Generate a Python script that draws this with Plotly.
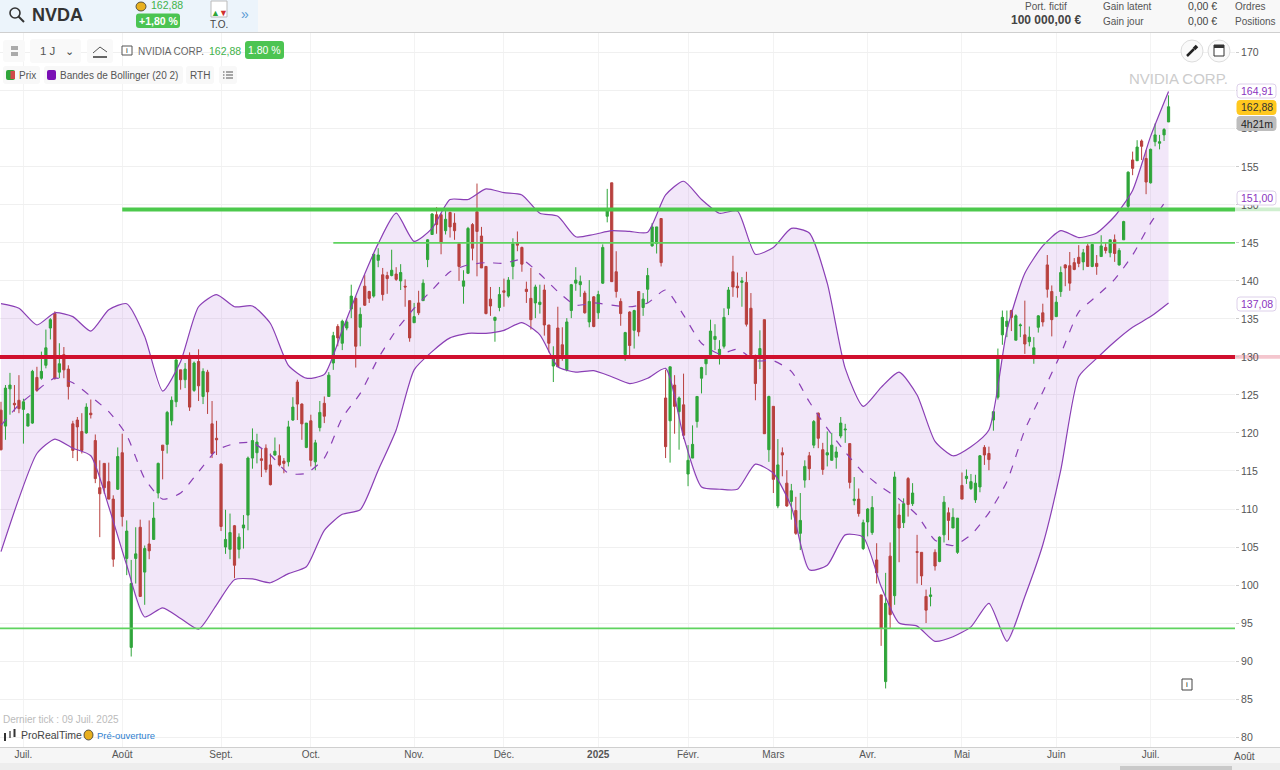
"""NVDA daily candles with Bollinger bands, ProRealTime style."""

import plotly.graph_objects as go

opens = [
    123.0, 120.9, 125.8, 123.9, 124.3, 123.1, 120.9, 121.3, 127.3, 127.2,
    128.9, 133.8, 135.7, 128.0, 130.3, 128.4, 121.2, 121.7, 120.2, 120.0,
    122.6, 119.0, 112.8, 116.0, 113.6, 111.3, 112.6, 117.4, 103.5, 91.8,
    103.5, 107.6, 101.7, 105.4, 106.0, 112.1, 118.4, 118.5, 121.6, 124.1,
    128.3, 127.0, 130.2, 125.6, 129.4, 124.8, 128.0, 121.2, 119.3, 115.9,
    105.0, 104.7, 107.8, 104.7, 107.5, 109.2, 116.7, 117.4, 116.6, 118.0,
    115.8, 117.1, 117.0, 116.3, 116.2, 121.7, 126.7, 123.8, 118.1, 121.6,
    116.2, 120.7, 123.9, 124.8, 129.2, 134.0, 131.8, 133.8, 136.3, 137.7,
    133.9, 139.3, 138.6, 138.0, 142.7, 140.8, 140.7, 140.7, 140.9, 140.0,
    139.3, 137.4, 134.5, 137.1, 137.4, 142.8, 146.1, 148.7, 148.7, 146.6,
    149.0, 147.6, 144.9, 139.3, 141.0, 147.4, 149.1, 145.9, 141.9, 137.6,
    134.8, 136.5, 138.7, 138.0, 141.9, 145.0, 144.4, 138.9, 137.7, 137.1,
    136.9, 138.8, 134.2, 128.8, 133.8, 131.6, 128.3, 136.1, 139.7, 139.5,
    138.4, 134.6, 137.9, 135.8, 139.7, 148.5, 152.9, 141.2, 137.3, 130.3,
    135.9, 133.5, 138.6, 136.5, 138.9, 144.6, 144.9, 148.2, 124.6, 121.6,
    126.3, 122.8, 123.7, 114.6, 116.7, 121.5, 127.2, 129.1, 130.3, 132.3,
    130.3, 131.4, 136.4, 141.2, 139.3, 139.8, 139.8, 136.4, 129.8, 130.0,
    134.9, 117.8, 123.5, 110.4, 117.4, 113.4, 111.0, 109.8, 106.8, 113.8,
    117.0, 118.4, 122.6, 117.8, 117.1, 116.4, 116.8, 119.6, 120.4, 118.6,
    111.1, 111.3, 104.8, 108.3, 106.9, 103.3, 98.7, 87.3, 103.8, 98.6,
    109.2, 108.2, 114.0, 110.7, 104.4, 104.3, 98.5, 98.5, 104.3, 103.1,
    106.6, 109.5, 107.5, 104.3, 113.1, 114.0, 112.7, 111.2, 112.9, 118.1,
    117.3, 121.7, 124.7, 132.9, 134.0, 136.1, 132.2, 134.1, 132.9, 132.0,
    130.0, 133.9, 135.8, 142.1, 138.6, 135.3, 138.6, 142.1, 142.0, 142.4,
    143.1, 142.5, 144.6, 141.9, 142.3, 143.2, 144.4, 143.7, 145.4, 142.1,
    145.4, 149.8, 155.9, 155.8, 158.4, 156.1, 152.9, 158.3, 158.1, 159.2, 160.9,
]
highs = [
    124.1, 126.3, 127.9, 126.3, 127.6, 124.5, 122.6, 128.3, 128.7, 130.7,
    133.6, 135.1, 136.0, 131.8, 131.3, 128.9, 121.6, 122.1, 122.6, 123.9,
    124.4, 119.8, 116.4, 116.0, 116.1, 111.8, 118.1, 119.9, 108.5, 103.3,
    107.6, 108.6, 105.2, 108.5, 110.9, 116.1, 118.4, 122.9, 124.8, 129.8,
    128.3, 129.2, 130.6, 129.4, 131.0, 128.5, 128.3, 124.2, 121.6, 116.0,
    109.9, 109.4, 107.9, 106.8, 109.2, 116.9, 120.6, 119.9, 118.0, 118.5,
    117.3, 119.4, 118.5, 116.7, 121.6, 124.7, 127.0, 123.9, 121.3, 122.4,
    119.1, 124.2, 124.8, 128.0, 133.3, 134.3, 134.9, 134.9, 139.5, 138.0,
    136.5, 140.8, 138.7, 143.6, 144.3, 141.7, 141.2, 144.1, 141.8, 142.2,
    140.2, 137.4, 137.1, 138.7, 140.2, 145.5, 148.9, 149.7, 148.9, 149.3,
    149.1, 148.9, 145.0, 141.4, 147.1, 147.6, 152.8, 147.1, 141.9, 139.2,
    135.3, 139.2, 140.3, 140.5, 145.6, 146.5, 144.5, 139.9, 141.7, 139.5,
    139.5, 139.5, 134.2, 131.4, 136.6, 133.9, 135.1, 139.6, 141.8, 140.7,
    138.7, 140.1, 138.0, 138.7, 144.8, 152.1, 152.9, 143.9, 137.7, 133.3,
    136.0, 136.2, 138.6, 138.4, 141.7, 147.6, 147.1, 148.2, 128.3, 128.7,
    127.6, 124.8, 127.8, 118.4, 121.0, 124.8, 128.7, 130.0, 134.9, 134.3,
    132.2, 136.4, 139.2, 143.3, 141.1, 140.5, 141.2, 138.4, 130.3, 133.5,
    134.9, 124.9, 123.5, 119.2, 118.1, 115.1, 113.3, 111.6, 112.1, 116.4,
    117.5, 121.7, 122.7, 118.7, 120.2, 120.0, 118.2, 122.1, 121.2, 118.6,
    114.2, 112.7, 108.6, 110.1, 111.7, 105.5, 98.7, 101.6, 105.6, 114.9,
    110.7, 111.4, 114.2, 113.4, 106.6, 104.3, 99.4, 99.7, 104.7, 106.4,
    111.7, 110.2, 110.1, 108.8, 114.8, 115.2, 114.6, 114.5, 117.1, 118.4,
    118.2, 122.8, 131.1, 136.1, 136.1, 136.2, 135.6, 134.4, 137.4, 134.0,
    132.6, 135.5, 137.0, 143.4, 139.4, 138.0, 141.9, 142.2, 143.8, 143.0,
    144.7, 144.2, 144.9, 144.8, 143.4, 146.0, 145.0, 145.4, 146.1, 144.3,
    147.9, 154.4, 157.0, 158.5, 158.6, 157.2, 157.4, 160.7, 159.2, 160.1, 164.4,
]
lows = [
    117.7, 119.1, 122.4, 122.8, 122.6, 118.6, 120.9, 121.2, 125.4, 127.0,
    128.5, 132.3, 127.0, 127.2, 127.2, 124.4, 116.7, 116.3, 117.3, 119.9,
    121.9, 113.4, 106.3, 112.0, 111.3, 102.4, 112.5, 107.7, 101.3, 90.6,
    100.2, 98.5, 97.4, 103.4, 106.0, 111.4, 113.9, 117.3, 121.0, 123.4,
    125.7, 125.9, 122.9, 125.4, 124.2, 123.8, 122.5, 116.7, 117.1, 107.1,
    104.1, 103.4, 100.9, 103.5, 104.8, 107.2, 115.3, 116.0, 114.2, 114.8,
    113.1, 117.0, 115.6, 114.7, 115.6, 121.6, 121.7, 119.1, 118.0, 115.6,
    115.1, 120.2, 121.3, 124.8, 128.3, 131.4, 130.9, 133.5, 135.1, 128.6,
    131.4, 136.7, 137.1, 137.8, 141.8, 137.4, 138.3, 140.6, 140.0, 138.8,
    136.6, 132.0, 134.5, 135.5, 137.4, 141.8, 146.1, 146.2, 143.5, 146.1,
    145.7, 145.4, 140.0, 137.0, 140.9, 142.7, 140.6, 141.7, 135.6, 135.4,
    132.0, 136.0, 136.6, 137.8, 140.2, 143.9, 141.2, 137.1, 133.6, 135.1,
    135.7, 132.8, 130.6, 126.7, 128.7, 129.5, 128.1, 135.1, 138.7, 137.9,
    135.7, 133.9, 133.9, 135.0, 139.6, 147.7, 139.9, 137.8, 134.1, 129.5,
    130.1, 131.1, 132.7, 135.4, 137.1, 144.5, 143.6, 141.9, 116.7, 116.1,
    119.9, 117.8, 119.2, 113.0, 116.7, 120.7, 125.2, 127.6, 130.3, 130.9,
    129.0, 131.1, 135.5, 137.9, 137.8, 136.6, 134.0, 130.0, 124.3, 128.4,
    119.9, 116.2, 112.1, 110.1, 114.3, 110.3, 108.6, 106.6, 104.6, 112.8,
    113.8, 118.0, 118.0, 114.5, 115.6, 116.4, 115.3, 119.3, 118.7, 112.7,
    110.5, 109.0, 104.6, 106.4, 106.6, 100.2, 92.0, 86.4, 94.3, 97.4,
    103.0, 107.5, 109.0, 110.4, 100.2, 100.0, 95.0, 97.2, 101.9, 103.0,
    105.6, 105.9, 107.5, 104.1, 111.3, 113.3, 112.5, 110.8, 112.2, 115.8,
    115.1, 120.3, 124.4, 131.6, 132.6, 133.4, 132.2, 132.6, 130.4, 131.4,
    129.1, 133.2, 134.0, 137.8, 132.7, 135.3, 137.9, 139.3, 138.7, 141.4,
    141.8, 141.4, 141.9, 141.8, 140.8, 143.2, 143.6, 143.1, 142.5, 142.0,
    145.4, 149.5, 153.9, 155.8, 155.9, 151.4, 152.8, 157.7, 157.3, 158.4, 160.9,
]
closes = [
    117.8, 125.9, 126.3, 123.7, 123.2, 124.1, 122.5, 128.1, 125.6, 128.1,
    131.2, 134.9, 127.2, 129.1, 128.3, 126.1, 117.7, 120.8, 117.7, 123.4,
    122.4, 114.0, 112.0, 112.8, 111.3, 103.4, 116.9, 109.0, 107.1, 100.2,
    104.1, 98.5, 104.8, 104.5, 108.8, 116.0, 117.7, 122.7, 124.3, 129.6,
    127.0, 128.4, 123.4, 129.2, 126.2, 128.1, 125.4, 117.3, 119.1, 107.7,
    106.0, 106.9, 102.6, 106.3, 107.9, 116.7, 119.0, 118.8, 116.4, 115.2,
    113.2, 117.6, 115.8, 116.0, 120.8, 123.4, 123.8, 121.2, 121.3, 116.4,
    118.7, 122.7, 122.2, 127.6, 132.8, 132.5, 134.7, 134.6, 138.0, 131.4,
    135.6, 136.8, 137.7, 143.5, 143.4, 138.2, 140.3, 141.4, 140.2, 141.1,
    139.2, 132.5, 135.3, 135.8, 139.7, 145.4, 148.8, 147.4, 145.0, 148.1,
    147.1, 146.6, 141.9, 140.0, 146.9, 144.3, 146.5, 141.7, 135.7, 136.7,
    135.2, 138.2, 138.5, 140.1, 144.9, 144.7, 142.2, 138.6, 134.9, 139.2,
    137.2, 134.2, 131.8, 129.8, 128.7, 130.3, 134.6, 139.5, 140.1, 139.9,
    135.8, 137.3, 134.0, 138.2, 144.4, 149.3, 139.9, 138.6, 135.7, 133.2,
    131.5, 136.1, 133.3, 137.6, 140.7, 147.1, 147.1, 142.4, 118.2, 128.7,
    123.5, 124.6, 119.7, 116.4, 118.5, 124.8, 128.6, 129.7, 133.4, 132.7,
    131.0, 135.2, 138.8, 139.2, 139.1, 140.0, 134.3, 130.3, 126.5, 131.1,
    119.9, 124.8, 113.9, 115.8, 117.1, 110.4, 112.4, 106.8, 108.5, 115.6,
    115.3, 121.5, 119.3, 115.2, 117.4, 118.4, 117.5, 121.3, 120.5, 113.5,
    111.3, 109.4, 108.2, 110.0, 110.2, 101.6, 94.3, 97.6, 96.1, 114.2,
    107.5, 110.7, 110.6, 112.1, 104.3, 101.2, 96.7, 98.7, 102.5, 106.3,
    110.9, 108.5, 108.9, 108.8, 111.3, 114.3, 113.6, 113.4, 117.0, 117.1,
    116.5, 122.8, 129.7, 135.2, 134.7, 135.2, 135.4, 134.2, 131.7, 132.6,
    131.2, 135.4, 134.6, 138.9, 134.9, 137.2, 141.1, 141.7, 139.7, 141.5,
    142.3, 143.7, 141.9, 144.8, 141.9, 144.6, 144.0, 145.4, 143.6, 144.0,
    147.8, 154.3, 154.8, 157.6, 157.7, 153.0, 157.3, 159.2, 158.3, 159.9, 162.9,
]

# bands read every 4th session
band_days = list(range(0, 261, 4))
band_upper = [
    137.0, 136.4, 134.2, 135.8, 135.3, 133.4, 136.2, 137.0, 132.7, 125.5,
    129.4, 136.6, 138.2, 136.6, 136.7, 134.4, 128.9, 127.2, 127.7,
    133.5, 139.5, 144.9, 148.9, 145.2, 146.9, 150.7, 150.7, 152.1, 151.6,
    151.3, 148.9, 148.5, 145.8, 146.1, 146.6, 146.5, 146.4,
    151.3, 153.1, 150.7, 148.9, 149.2, 143.5, 144.4, 146.9, 146.3, 139.7,
    128.5, 123.5, 126.0, 128.0, 125.0, 118.9, 117.0,
    118.2, 120.4, 133.5, 141.0, 144.6, 146.6, 145.7, 146.3, 148.5, 151.9, 159.0, 164.9,
]
band_mid = [
    121.0, 123.7, 125.6, 127.2, 126.6, 124.8, 122.8, 119.7, 114.0, 111.3,
    112.1, 114.9, 117.7, 118.6, 118.7, 117.1, 114.7, 114.7, 116.7,
    122.0, 125.2, 129.8, 133.5, 136.4, 138.8, 141.2, 142.1, 142.4, 142.3,
    142.8, 140.9, 138.6, 136.8, 137.1, 136.8, 136.6, 137.1,
    138.8, 135.5, 131.8, 130.4, 131.0, 129.5, 129.5, 128.1, 124.1, 120.6,
    117.5, 114.8, 112.9, 111.3, 109.2, 105.9, 105.2,
    106.6, 109.5, 113.6, 120.4, 125.4, 130.4, 135.9, 138.0, 140.2, 143.4, 147.6, 151.0,
]
band_lower = [
    104.4, 111.4, 117.3, 119.2, 118.0, 117.0, 110.3, 102.6, 95.8, 97.0,
    95.6, 94.2, 97.4, 100.7, 100.8, 100.3, 101.5, 102.4, 107.2,
    109.3, 109.9, 115.1, 120.4, 128.3, 130.7, 132.5, 133.1, 133.1, 133.5,
    134.5, 132.9, 128.7, 128.0, 128.2, 127.4, 126.5, 127.2,
    128.5, 119.5, 112.9, 112.6, 112.6, 115.9, 114.7, 110.3, 102.0, 102.6,
    106.6, 106.3, 99.8, 95.0, 94.6, 92.6, 93.2,
    94.5, 97.6, 92.6, 98.5, 105.3, 115.1, 127.4, 129.8, 132.0, 133.9, 135.3, 137.1,
]

# horizontal levels: price, first session, colour, width
level_prices = [149.4, 145.0, 130.0, 94.3]
level_starts = [27, 74, -1, -1]
level_colors = ["#4CC94C", "#5FD35F", "#D0102E", "#5FD35F"]
level_widths = [4, 1.6, 4, 1.6]

month_days = [5, 27, 49, 69, 92, 112, 133, 153, 172, 193, 214, 235, 256]
month_labels = ["Juil.", "Août", "Sept.", "Oct.", "Nov.", "Déc.", "<b>2025</b>",
                "Févr.", "Mars", "Avr.", "Mai", "Juin", "Juil."]
price_ticks = list(range(80, 175, 5))
# 165 sits fully behind the upper band tag
price_labels = ["" if p == 165 else str(p) for p in price_ticks]

X_RANGE = [-0.22, 274.8]
Y_RANGE = [78.7, 172.6]
PLOT_L, PLOT_R, PLOT_T, PLOT_B = 0, 1235, 33, 747
FONT = "Liberation Sans"
GREEN = "#2FA53A"
RED = "#B8403E"
PURPLE = "#8A3FB5"


def px(x):
    return (x - PLOT_L) / (PLOT_R - PLOT_L)


def py(y):
    return (PLOT_B - y) / (PLOT_B - PLOT_T)


shapes = []
annotations = []


def rect(x0, y0, x1, y1, fill, line=None, layer="below"):
    shapes.append(dict(type="rect", xref="paper", yref="paper", layer=layer,
                       x0=px(x0), x1=px(x1), y0=py(y0), y1=py(y1), fillcolor=fill,
                       line=dict(color=line or fill, width=1 if line else 0)))


def pill(x0, y0, x1, y1, r, fill, line=None, layer="above"):
    path = (f"M{px(x0 + r)},{py(y0)} L{px(x1 - r)},{py(y0)} Q{px(x1)},{py(y0)} {px(x1)},{py(y0 + r)} "
            f"L{px(x1)},{py(y1 - r)} Q{px(x1)},{py(y1)} {px(x1 - r)},{py(y1)} "
            f"L{px(x0 + r)},{py(y1)} Q{px(x0)},{py(y1)} {px(x0)},{py(y1 - r)} "
            f"L{px(x0)},{py(y0 + r)} Q{px(x0)},{py(y0)} {px(x0 + r)},{py(y0)} Z")
    shapes.append(dict(type="path", xref="paper", yref="paper", layer=layer, path=path,
                       fillcolor=fill, line=dict(color=line or fill, width=1 if line else 0)))


def seg(x0, y0, x1, y1, color, width=1.5):
    shapes.append(dict(type="line", xref="paper", yref="paper", layer="above",
                       x0=px(x0), x1=px(x1), y0=py(y0), y1=py(y1),
                       line=dict(color=color, width=width)))


def circle(x0, y0, x1, y1, fill, line, width=1.0):
    shapes.append(dict(type="circle", xref="paper", yref="paper", layer="above",
                       x0=px(x0), x1=px(x1), y0=py(y0), y1=py(y1), fillcolor=fill,
                       line=dict(color=line, width=width)))


def label(x, y, text, size=10, color="#555555", anchor="left"):
    # annotations carry about 2px of padding around the text
    nudge = {"left": -2, "right": 2}.get(anchor, 0)
    annotations.append(dict(xref="paper", yref="paper", x=px(x + nudge), y=py(y), text=text,
                            showarrow=False, xanchor=anchor, yanchor="middle",
                            font=dict(family=FONT, size=size, color=color)))


def tag(y, text, fill, border, color):
    pill(1237, y - 7, 1276, y + 7, 3, fill, border)
    label(1256.5, y, text, 10.5, color, "center")


# top bar
rect(0, 0, 1280, 32, "#F8F8F8", layer="below")
rect(0, 0, 258, 32, "#ECF4FB", layer="below")
seg(0, 32.5, 1280, 32.5, "#CFCFCF", 1)
circle(10, 8, 20, 18, "rgba(0,0,0,0)", "#333333", 1.6)
seg(18.5, 16.5, 24, 22, "#333333", 2)
label(32, 15, "<b>NVDA</b>", 18, "#333333")
circle(136, 2, 146, 11, "#E8B020", "#333333", 0.8)
label(151, 5.5, "162,88", 10.5, "#3FB24A")
pill(136, 13.5, 180, 28, 3, "#4CC452")
label(158, 21, "<b>+1,80 %</b>", 10.5, "#FFFFFF", "center")
rect(211, 1, 227, 17, "#FFFFFF", "#BBBBBB", layer="above")
label(215, 12.5, "▲", 9, "#2FA53A", "center")
label(223, 12.5, "▼", 9, "#D0302E", "center")
label(219, 24.5, "T.O.", 10, "#444444", "center")
label(245, 14, "»", 14, "#5B9BD5", "center")
label(1046, 6.5, "Port. fictif", 10, "#555555", "center")
label(1046, 20, "<b>100 000,00 €</b>", 12, "#444444", "center")
label(1103, 6.5, "Gain latent", 10, "#555555")
label(1103, 21, "Gain jour", 10, "#555555")
label(1217, 6.5, "0,00 €", 10.5, "#444444", "right")
label(1217, 21, "0,00 €", 10.5, "#444444", "right")
label(1235, 6.5, "Ordres", 10, "#555555")
label(1235, 21, "Positions", 10, "#555555")

# chart toolbar
pill(3, 40, 25, 62, 3, "#F9F9F9")
rect(11, 46, 18, 50, "#AAAAAA", layer="above")
rect(11, 52, 18, 56, "#AAAAAA", layer="above")
pill(30, 39, 81, 63, 3, "#F9F9F9")
label(40, 51, "1 J", 11.5, "#555555")
label(69, 51, "⌄", 11, "#444444", "center")
pill(87, 39, 113, 63, 3, "#F9F9F9")
seg(93, 53, 100, 47, "#555555", 1)
seg(100, 47, 107, 52, "#555555", 1)
rect(93, 56, 107, 58, "#666666", layer="above")
rect(122, 46, 132, 55, "#FFFFFF", "#555555", layer="above")
label(127, 50.5, "i", 8, "#333333", "center")
label(138, 51, "NVIDIA CORP.", 10, "#666666")
label(209, 51, "162,88", 10.5, "#3FB24A")
pill(245, 41, 284, 59, 3, "#4CC452")
label(264.5, 50, "1.80 %", 10.5, "#FFFFFF", "center")

# legend row
pill(3, 66, 40, 84, 3, "#F8F8F8")
pill(6, 70, 15, 80, 2, GREEN)
rect(10.5, 71, 15, 79, "#D04A4A", layer="above")
label(19, 75, "Prix", 10, "#555555")
pill(44, 66, 183, 84, 3, "#F8F8F8")
pill(47, 70, 56, 80, 2, "#7A0FB5")
label(60, 75, "Bandes de Bollinger (20 2)", 10, "#555555")
pill(186, 66, 214, 84, 3, "#F8F8F8")
label(190, 75, "RTH", 10, "#555555")
pill(219, 66, 237, 84, 3, "#F8F8F8")
for row_y in (72, 75, 78):
    seg(226, row_y, 233, row_y, "#555555", 1)
    seg(223, row_y, 224.5, row_y, "#555555", 1)

# round buttons and watermark
circle(1181, 40, 1203, 62, "#FAFAFA", "#DDDDDD")
seg(1187, 56, 1194, 49, "#222222", 2.5)
seg(1194, 49, 1197, 46, "#222222", 3.5)
circle(1208, 40, 1230, 62, "#FAFAFA", "#DDDDDD")
rect(1214, 45, 1224, 56, "#FFFFFF", "#333333", layer="above")
rect(1214, 45, 1224, 48, "#333333", layer="above")
label(1228, 78, "NVIDIA CORP.", 15, "#CCCCCC", "right")

# footer
label(3, 719, "Dernier tick : 09 Juil. 2025", 10, "#BBBBBB")
seg(5, 733, 5, 741, "#333333", 2)
seg(10, 731, 10, 738, "#555555", 1.5)
seg(14.5, 729, 14.5, 737, "#333333", 2)
label(21, 735, "ProRealTime", 10.5, "#444444")
circle(84, 730, 93, 740, "#E8B020", "#333333", 0.8)
label(97, 735, "Pré-ouverture", 9.5, "#2F7FD0")
rect(1182, 679, 1192, 690, "#FFFFFF", "#444444", layer="above")
label(1187, 684.5, "i", 8, "#222222", "center")

# bottom time strip, the last month falls past the price area
rect(0, 748, 1280, 763, "#F6F6F6", layer="below")
rect(0, 763, 1280, 770, "#EDEDED", layer="below")
rect(1120, 766, 1232, 770, "#C9C9C9", layer="below")
seg(0, 747.5, 1280, 747.5, "#CFCFCF", 1)
label(1244, 756, "Août", 10, "#555555", "center")

# faded level extensions next to the price scale
for price, color in ((149.4, "#CFEFCF"), (130.0, "#F4C6CE")):
    shapes.append(dict(type="rect", xref="paper", yref="y", layer="below", x0=1, x1=px(1280),
                       y0=price - 0.25, y1=price + 0.25, fillcolor=color, line=dict(width=0)))

fig = go.Figure()

# band fill sits on the base axis so the candles stay above it
fig.add_trace(go.Scatter(x=band_days, y=band_lower, mode="lines", line=dict(width=0, shape="spline"),
                         hoverinfo="skip"))
fig.add_trace(go.Scatter(x=band_days, y=band_upper, mode="lines", line=dict(width=0, shape="spline"),
                         fill="tonexty", fillcolor="rgba(160,85,215,0.14)", hoverinfo="skip"))

fig.add_trace(go.Candlestick(
    x=list(range(len(closes))), open=opens, high=highs, low=lows, close=closes, yaxis="y2",
    whiskerwidth=0,
    increasing=dict(line=dict(color=GREEN, width=1), fillcolor=GREEN),
    decreasing=dict(line=dict(color=RED, width=1), fillcolor=RED),
))

for series, dash in ((band_upper, "solid"), (band_lower, "solid"), (band_mid, "8px,9px")):
    fig.add_trace(go.Scatter(x=band_days, y=series, mode="lines", yaxis="y2",
                             line=dict(color=PURPLE, width=1.2, dash=dash, shape="spline", smoothing=0.6)))

for price, start, color, width in zip(level_prices, level_starts, level_colors, level_widths):
    fig.add_trace(go.Scatter(x=[start, X_RANGE[1]], y=[price, price], mode="lines", yaxis="y2",
                             line=dict(color=color, width=width)))

# price tags over the scale
tag(91, "164,91", "#FFFFFF", "#DDD0EA", "#8B34C0")
tag(107.5, "162,88", "#FFC81E", "#FFC81E", "#333333")
tag(123.5, "4h21m", "#BDBDBD", "#BDBDBD", "#222222")
tag(198, "151,00", "#FFFFFF", "#DDD0EA", "#8B34C0")
tag(304, "137,08", "#FFFFFF", "#DDD0EA", "#8B34C0")

fig.update_layout(
    width=1280,
    height=770,
    margin=dict(l=PLOT_L, r=1280 - PLOT_R, t=PLOT_T, b=770 - PLOT_B),
    paper_bgcolor="#FFFFFF",
    plot_bgcolor="#FFFFFF",
    showlegend=False,
    shapes=shapes,
    annotations=annotations,
    font=dict(family=FONT, size=10.5, color="#555555"),
    xaxis=dict(range=X_RANGE, tickmode="array", tickvals=month_days, ticktext=month_labels,
               showgrid=True, gridcolor="#F3F3F3", gridwidth=1, zeroline=False, ticks="",
               tickfont=dict(family=FONT, size=10, color="#555555"), rangeslider=dict(visible=False)),
    yaxis=dict(range=Y_RANGE, side="right", tickmode="array", tickvals=price_ticks, ticktext=price_labels,
               showgrid=True, gridcolor="#F0F0F0", gridwidth=1, zeroline=False, ticks="outside",
               ticklen=3, tickcolor="#CCCCCC", tickfont=dict(family=FONT, size=10.5, color="#555555")),
    yaxis2=dict(range=Y_RANGE, overlaying="y", side="right", visible=False),
)

fig.write_html("out.html", config={"displayModeBar": False},
               post_script="document.body.style.margin='0';document.body.style.overflow='hidden';")
